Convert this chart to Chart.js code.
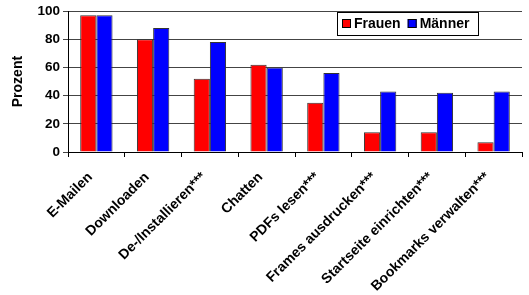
<!DOCTYPE html>
<html>
<head>
<meta charset="utf-8">
<script src="https://cdn.jsdelivr.net/npm/chart.js@4"></script>
<style>
  html, body { margin: 0; padding: 0; background: #fff; }
  #wrap { width: 529px; height: 295px; }
</style>
</head>
<body>
<div id="wrap"><canvas id="chart" width="529" height="295"></canvas></div>
<script>
// Chart data
const categories = ['E-Mailen', 'Downloaden', 'De-/Installieren***', 'Chatten', 'PDFs lesen***',
                    'Frames ausdrucken***', 'Startseite einrichten***', 'Bookmarks verwalten***'];
const frauen = [97, 80, 52, 62, 35, 14, 14, 7];
const maenner = [97, 88, 78, 60, 56, 43, 42, 43];
const seriesNames = ['Frauen', 'Männer'];
const yTicks = [0, 20, 40, 60, 80, 100];

const font = 'Arial, "Liberation Sans", sans-serif';

// Legend box drawn inside the plot area (top right)
const boxLegend = {
    id: 'boxLegend',
    afterDraw(chart) {
        const ctx = chart.ctx;
        const x = 337, y = 12, w = 141, h = 23;
        ctx.save();
        ctx.fillStyle = '#fff';
        ctx.fillRect(x, y, w, h);
        ctx.strokeStyle = '#000';
        ctx.lineWidth = 1;
        ctx.strokeRect(x + 0.5, y + 0.5, w, h);
        ctx.font = 'bold 14px ' + font;
        ctx.textBaseline = 'middle';
        let cx = x + 5;
        chart.data.datasets.forEach(ds => {
            ctx.fillStyle = ds.backgroundColor;
            ctx.fillRect(cx, y + 7, 9, 9);
            ctx.strokeStyle = '#000';
            ctx.strokeRect(cx + 0.5, y + 7.5, 8, 8);
            ctx.fillStyle = '#000';
            ctx.fillText(ds.label, cx + 12, y + h / 2 + 1);
            cx += 12 + ctx.measureText(ds.label).width + 7;
        });
        ctx.restore();
    }
};

new Chart(document.getElementById('chart'), {
    type: 'bar',
    data: {
        labels: categories,
        datasets: [{
            label: seriesNames[0],
            data: frauen,
            backgroundColor: '#ff0000',
            borderColor: '#333',
            borderWidth: 1,
            categoryPercentage: 0.57,
            barPercentage: 1.0
        }, {
            label: seriesNames[1],
            data: maenner,
            backgroundColor: '#0000ff',
            borderColor: '#333',
            borderWidth: 1,
            categoryPercentage: 0.57,
            barPercentage: 1.0
        }]
    },
    options: {
        responsive: false,
        animation: false,
        layout: { padding: { top: 5, right: 7, left: 10, bottom: 0 } },
        plugins: {
            legend: { display: false },
            tooltip: { enabled: false }
        },
        scales: {
            x: {
                grid: {
                    offset: true,
                    drawOnChartArea: false,
                    drawTicks: true,
                    tickLength: 5,
                    color: '#000'
                },
                border: { color: '#000', width: 1 },
                ticks: {
                    color: '#000',
                    font: { family: font, size: 14, weight: 'bold' },
                    minRotation: 45,
                    maxRotation: 45,
                    autoSkip: false,
                    padding: 12,
                    labelOffset: -6
                },
                afterFit(scale) {
                    scale.height = 143;
                    scale.paddingLeft = 0;
                    scale.paddingRight = 0;
                }
            },
            y: {
                min: 0,
                max: 100,
                afterBuildTicks(scale) {
                    scale.ticks = yTicks.map(v => ({ value: v }));
                },
                grid: {
                    color: '#444',
                    tickLength: 5
                },
                border: { color: '#000', width: 1 },
                ticks: {
                    color: '#000',
                    font: { family: font, size: 13.5, weight: 'bold' },
                    padding: 3
                },
                title: {
                    display: true,
                    text: 'Prozent',
                    color: '#000',
                    font: { family: font, size: 14, weight: 'bold' },
                    padding: { top: 0, bottom: 4 }
                },
                afterFit(scale) {
                    scale.width = 58;
                }
            }
        }
    },
    plugins: [boxLegend]
});
</script>
</body>
</html>
